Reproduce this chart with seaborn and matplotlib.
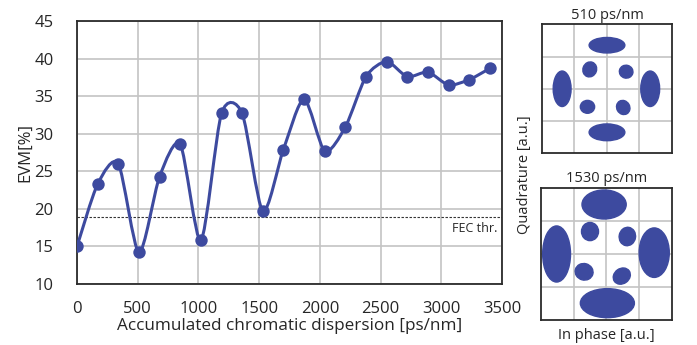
import numpy as np
import pandas as pd
import matplotlib
matplotlib.use("Agg")
import matplotlib.pyplot as plt
import seaborn as sns
from matplotlib.path import Path
from matplotlib.patches import PathPatch, Ellipse

# main curve: EVM vs accumulated dispersion
dispersion = [0, 170, 340, 510, 680, 850, 1020, 1190, 1360, 1530, 1700,
              1870, 2040, 2210, 2380, 2550, 2720, 2890, 3060, 3230, 3400]
evm = [15.0, 23.3, 26.0, 14.2, 24.3, 28.6, 15.8, 32.7, 32.7, 19.7, 27.9,
       34.6, 27.7, 30.9, 37.6, 39.6, 37.6, 38.2, 36.5, 37.2, 38.7]
fec_thr = 18.9

# constellation clusters (grid units): centre x, centre y, width, height, angle
c510_x = [0.0, 0.0, -1.38, 1.33, -0.53, 0.59, -0.60, 0.50]
c510_y = [1.35, -1.35, 0.0, 0.0, 0.60, 0.53, -0.56, -0.58]
c510_w = [1.10, 1.10, 0.55, 0.58, 0.42, 0.42, 0.44, 0.40]
c510_h = [0.48, 0.52, 1.10, 1.10, 0.47, 0.40, 0.40, 0.45]
c510_a = [0, 0, 0, 0, -20, -15, 0, 30]

c1530_x = [-0.07, 0.03, -1.52, 1.46, -0.50, 0.64, -0.68, 0.47]
c1530_y = [1.50, -1.49, 0.0, 0.04, 0.68, 0.53, -0.54, -0.67]
c1530_w = [1.35, 1.65, 0.85, 0.92, 0.52, 0.50, 0.55, 0.55]
c1530_h = [0.88, 0.88, 1.70, 1.50, 0.55, 0.56, 0.50, 0.46]
c1530_a = [0, 0, 0, 0, 0, -10, -15, 35]

BLUE = "#3D4A9F"
GRID = "#c4c4c4"
SPINE = "#2b2b2b"
TXT = "#262626"

sns.set_style("whitegrid")
plt.rcParams["font.family"] = ["Open Sans", "DejaVu Sans"]

fig = plt.figure(figsize=(6.97, 3.45), dpi=100)
ax = fig.add_axes([0.1105, 0.1768, 0.6097, 0.7622])

df = pd.DataFrame({"cd": dispersion, "evm": evm})

# smoothed line like a spreadsheet chart (cubic bezier segments)
xs = np.array(dispersion, dtype=float)
ys = np.array(evm, dtype=float)
verts = [(xs[0], ys[0])]
codes = [Path.MOVETO]
n = len(xs)
k = 0.13
for i in range(n - 1):
    p0 = np.array([xs[max(i - 1, 0)], ys[max(i - 1, 0)]])
    p1 = np.array([xs[i], ys[i]])
    p2 = np.array([xs[i + 1], ys[i + 1]])
    p3 = np.array([xs[min(i + 2, n - 1)], ys[min(i + 2, n - 1)]])
    c1 = p1 + (p2 - p0) * k
    c2 = p2 - (p3 - p1) * k
    verts += [tuple(c1), tuple(c2), tuple(p2)]
    codes += [Path.CURVE4] * 3
ax.add_patch(PathPatch(Path(verts, codes), facecolor="none", edgecolor=BLUE,
                       lw=2.2, zorder=3))

sns.scatterplot(data=df, x="cd", y="evm", ax=ax, color=BLUE, s=80,
                edgecolor=BLUE, linewidth=0, zorder=4)

ax.axhline(fec_thr, color="#333333", lw=0.8, ls=(0, (2.2, 1.4)), zorder=2)
ax.text(3460, fec_thr - 0.7, "FEC thr.", ha="right", va="top",
        fontsize=9, color=TXT)

ax.set_xlim(0, 3500)
ax.set_ylim(10, 45)
ax.set_xticks(range(0, 3501, 500))
ax.set_yticks(range(10, 46, 5))
ax.grid(True, color=GRID, lw=1.2)
for s in ax.spines.values():
    s.set_color(SPINE)
    s.set_linewidth(1.3)
ax.tick_params(axis="both", labelsize=12, colors=TXT, length=0)
ax.tick_params(axis="y", pad=17)
ax.tick_params(axis="x", pad=12)
ax.set_xlabel("Accumulated chromatic dispersion [ps/nm]", fontsize=12.3,
              color=TXT, labelpad=1)
ax.set_ylabel("EVM[%]", fontsize=12, color=TXT, labelpad=1)


def constellation(axc, cx, cy, cw, ch, ca, title):
    for x, y, w, h, a in zip(cx, cy, cw, ch, ca):
        axc.add_patch(Ellipse((x, y), w, h, angle=a, facecolor=BLUE,
                              edgecolor=BLUE, lw=1.0, zorder=3))
    axc.set_xlim(-2, 2)
    axc.set_ylim(-2, 2)
    axc.set_xticks([-1, 0, 1])
    axc.set_yticks([-1, 0, 1])
    axc.set_xticklabels([])
    axc.set_yticklabels([])
    axc.tick_params(length=0)
    axc.grid(True, color=GRID, lw=1.2)
    for s in axc.spines.values():
        s.set_color(SPINE)
        s.set_linewidth(1.3)
    axc.set_title(title, fontsize=10.5, color=TXT, pad=4)


ax1 = fig.add_axes([0.7776, 0.5557, 0.1865, 0.374])
constellation(ax1, c510_x, c510_y, c510_w, c510_h, c510_a, "510 ps/nm")
ax2 = fig.add_axes([0.776, 0.0725, 0.188, 0.3826])
constellation(ax2, c1530_x, c1530_y, c1530_w, c1530_h, c1530_a, "1530 ps/nm")
ax2.set_xlabel("In phase [a.u.]", fontsize=10.5, color=TXT, labelpad=2)

fig.text(0.752, 0.495, "Quadrature [a.u.]", rotation=90, ha="center",
         va="center", fontsize=10.5, color=TXT)

fig.savefig("out.png", dpi=100)
